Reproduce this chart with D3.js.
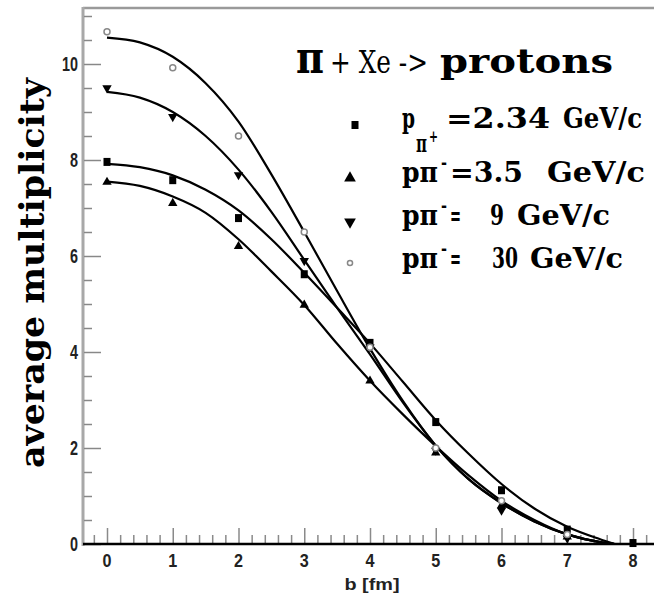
<!DOCTYPE html>
<html><head><meta charset="utf-8">
<script src="https://cdn.jsdelivr.net/npm/d3@7"></script>
<style>body{margin:0;background:#fff}svg{display:block}</style>
</head><body><svg id="c" width="654" height="597"></svg>
<script>
// ---- data ----
const bValues = [0, 1, 2, 3, 4, 5, 6, 7, 8];
const pts234 = [7.96, 7.58, 6.79, 5.62, 4.19, 2.54, 1.12, 0.30, 0.02];
const pts35  = [7.54, 7.10, 6.20, 4.98, 3.40, 1.90, 0.80, 0.15];
const pts9   = [9.50, 8.90, 7.69, 5.90, 4.10, 1.95, 0.70, 0.12];
const pts30  = [10.67, 9.92, 8.50, 6.50, 4.10, 2.00, 0.90, 0.20];

const fitB   = [0, 0.5, 1, 1.5, 2, 2.5, 3, 3.5, 4, 4.5, 5, 5.5, 6, 6.5, 7, 7.5, 7.72];
const fit234 = [7.92, 7.85, 7.68, 7.38, 6.95, 6.35, 5.65, 4.92, 4.18, 3.38, 2.58, 1.88, 1.25, 0.74, 0.36, 0.10, 0.00];
const fit35  = [7.55, 7.46, 7.24, 6.90, 6.35, 5.68, 4.98, 4.17, 3.40, 2.70, 2.04, 1.43, 0.90, 0.50, 0.20, 0.04, 0.00];
const fit9   = [9.42, 9.30, 9.00, 8.50, 7.80, 6.92, 5.92, 4.92, 3.95, 2.95, 2.05, 1.35, 0.85, 0.47, 0.20, 0.04, 0.00];
const fit30  = [10.55, 10.45, 10.15, 9.60, 8.80, 7.70, 6.50, 5.27, 4.07, 2.98, 2.05, 1.35, 0.85, 0.47, 0.20, 0.04, 0.00];

const xTickLabels = ["0", "1", "2", "3", "4", "5", "6", "7", "8"];
const yTickLabels = ["0", "2", "4", "6", "8", "10"];
const seriesSymbols = ["square", "triangleUp", "triangleDown", "circle"];
const legendSub = ["π", "π", "π", "π"];
const legendSign = ["+", "-", "-", "-"];
const legendValue = ["=2.34", "=3.5", "=", "="];
const legendNum = ["", "", "9", "30"];
const legendUnit = ["GeV/c", "GeV/c", "GeV/c", "GeV/c"];
const titleParts = ["π", "+ Xe ->", "protons"];
const xLabel = "b [fm]";
const yLabel = "average multiplicity";

// ---- layout ----
const svg = d3.select("#c");
const x = d3.scaleLinear().domain([0, 8]).range([107, 633]);
const y = d3.scaleLinear().domain([0, 10]).range([544, 64]);
const axisLeftX = 83, axisY = 544, topY = 8, rightX = 654;

const series = [
  {pts: pts234, fit: fit234, sym: seriesSymbols[0]},
  {pts: pts35,  fit: fit35,  sym: seriesSymbols[1]},
  {pts: pts9,   fit: fit9,   sym: seriesSymbols[2]},
  {pts: pts30,  fit: fit30,  sym: seriesSymbols[3]}
];

// frame
svg.append("line").attr("x1", axisLeftX).attr("x2", rightX).attr("y1", topY).attr("y2", topY)
  .attr("stroke", "#9a9a9a").attr("stroke-width", 2.5);
svg.append("line").attr("x1", axisLeftX).attr("x2", axisLeftX).attr("y1", topY - 1).attr("y2", axisY + 2)
  .attr("stroke", "#a8a8a8").attr("stroke-width", 3);

// y ticks (pointing right)
const yMinor = d3.range(0, 11.01, 0.5).filter(v => v % 2 !== 0);
const yMajor = d3.range(0, 10.01, 2);
const gy = svg.append("g").attr("transform", `translate(${axisLeftX + 1},0)`);
gy.call(d3.axisRight(y).tickValues(yMinor).tickSize(8).tickFormat(""));
gy.call(g => g.select(".domain").remove());
const gy2 = svg.append("g").attr("transform", `translate(${axisLeftX + 1},0)`);
gy2.call(d3.axisRight(y).tickValues(yMajor).tickSize(17).tickFormat(""));
gy2.call(g => g.select(".domain").remove());
svg.selectAll("g line").attr("stroke", "#888").attr("stroke-width", 1.5);

// y tick labels
svg.append("g").selectAll("text").data(yMajor).join("text")
  .attr("x", 78).attr("y", d => y(d) + 7)
  .attr("text-anchor", "end")
  .attr("font-family", "Liberation Sans, Arial, sans-serif").attr("font-size", 20).attr("font-weight", "bold")
  .attr("fill", "#222")
  .attr("textLength", (d, i) => yTickLabels[i].length * 8).attr("lengthAdjust", "spacingAndGlyphs")
  .text((d, i) => yTickLabels[i]);

// x ticks (pointing up)
const xMinor = d3.range(-0.2, 8.31, 0.2).map(v => +v.toFixed(1)).filter(v => Math.abs(v - Math.round(v)) > 0.01);
const xMajor = d3.range(0, 8.01, 1);
const gx = svg.append("g").attr("class", "xt").attr("transform", `translate(0,${axisY})`);
gx.call(d3.axisTop(x).tickValues(xMinor).tickSize(9).tickFormat(""));
gx.call(g => g.select(".domain").remove());
const gx2 = svg.append("g").attr("class", "xt").attr("transform", `translate(0,${axisY})`);
gx2.call(d3.axisTop(x).tickValues(xMajor).tickSize(16).tickFormat(""));
gx2.call(g => g.select(".domain").remove());
svg.selectAll("g.xt line").attr("stroke", "#8a8a8a").attr("stroke-width", 1.5);

svg.append("line").attr("x1", axisLeftX).attr("x2", rightX).attr("y1", axisY).attr("y2", axisY)
  .attr("stroke", "#000").attr("stroke-width", 2.5);

// x tick labels
svg.append("g").selectAll("text").data(xMajor).join("text")
  .attr("x", d => x(d)).attr("y", 567)
  .attr("text-anchor", "middle")
  .attr("font-family", "Liberation Sans, Arial, sans-serif").attr("font-size", 19).attr("font-weight", "bold")
  .attr("fill", "#222")
  .attr("textLength", 9).attr("lengthAdjust", "spacingAndGlyphs")
  .text((d, i) => xTickLabels[i]);

// axis titles
svg.append("text").attr("x", 372).attr("y", 590).attr("text-anchor", "middle")
  .attr("font-family", "Liberation Sans, Arial, sans-serif").attr("font-size", 17).attr("font-weight", "bold")
  .attr("fill", "#222").attr("textLength", 55).attr("lengthAdjust", "spacingAndGlyphs").text(xLabel);

svg.append("text").attr("transform", "translate(44,273) rotate(-90)").attr("text-anchor", "middle")
  .attr("font-family", "DejaVu Serif, serif").attr("font-size", 34).attr("font-weight", "bold")
  .attr("fill", "#000").attr("textLength", 390).attr("lengthAdjust", "spacingAndGlyphs").text(yLabel);

// fitted curves
const line = d3.line().x(d => x(d[0])).y(d => y(d[1])).curve(d3.curveMonotoneX);
const plot = svg.append("g");
series.forEach(s => {
  plot.append("path").datum(fitB.map((b, i) => [b, s.fit[i]]))
    .attr("d", line).attr("fill", "none").attr("stroke", "#000").attr("stroke-width", 2.2);
});

// markers
function drawMarker(g, sym, cx, cy, scale) {
  scale = scale || 1;
  if (sym === "square") {
    g.append("rect").attr("x", cx - 3.5 * scale).attr("y", cy - 4 * scale)
      .attr("width", 7 * scale).attr("height", 8 * scale).attr("fill", "#000");
  } else if (sym === "triangleUp" || sym === "triangleDown") {
    g.append("path").attr("d", d3.symbol().type(d3.symbolTriangle).size(38 * scale * scale)())
      .attr("transform", `translate(${cx},${cy}) rotate(${sym === "triangleDown" ? 180 : 0})`)
      .attr("fill", "#000");
  } else {
    g.append("circle").attr("cx", cx).attr("cy", cy).attr("r", 3 * scale)
      .attr("fill", "#fff").attr("stroke", "#888").attr("stroke-width", 1.5);
  }
}
series.forEach(s => {
  s.pts.forEach((v, i) => drawMarker(plot, s.sym, x(bValues[i]), y(v)));
});

// title (one text element, pieces as tspans)
const serif = "DejaVu Serif, serif";
const title = svg.append("text").attr("y", 73).attr("font-family", serif).attr("fill", "#000");
title.append("tspan").attr("x", 296).attr("font-size", 44).attr("font-weight", "bold")
  .attr("textLength", 28).attr("lengthAdjust", "spacingAndGlyphs").text(titleParts[0]);
title.append("tspan").attr("x", 330).attr("font-size", 32)
  .attr("textLength", 98).attr("lengthAdjust", "spacingAndGlyphs").text(titleParts[1]);
title.append("tspan").attr("x", 440).attr("font-size", 33).attr("font-weight", "bold")
  .attr("textLength", 173).attr("lengthAdjust", "spacingAndGlyphs").text(titleParts[2]);

// legend (one text element per row, pieces as tspans)
const legBase = [128, 182, 225, 268];
const legMarkY = [125, 178, 222, 263];
const valX = [[446, 104], [450, 73], [450, 11], [450, 11]];
const numX = [null, null, [490, 14], [492, 26]];
const unitX = [[563, 79], [547, 98], [517, 93], [530, 93]];
const lg = svg.append("g");
series.forEach((s, i) => {
  drawMarker(lg, s.sym, i === 0 ? 355 : 350, legMarkY[i], i === 0 ? 1 : (i === 3 ? 0.85 : 1.25));
  const by = legBase[i];
  const row = lg.append("text").attr("font-family", serif).attr("font-weight", "bold").attr("fill", "#000");
  const t = (tx, ty, size, str, len) =>
    row.append("tspan").attr("x", tx).attr("y", ty).attr("font-size", size)
      .attr("textLength", len).attr("lengthAdjust", "spacingAndGlyphs").text(str);
  if (i === 0) {
    t(402, by, 28, "p", 13);
    t(416, by + 24, 24, legendSub[i], 11);
    t(429, by + 14, 17, legendSign[i], 9);
  } else {
    t(402, by, 28, "p" + legendSub[i], 36);
    t(441, by - 13, 18, legendSign[i], 6);
  }
  t(valX[i][0], by, 27, legendValue[i], valX[i][1]);
  if (numX[i]) t(numX[i][0], by, 27, legendNum[i], numX[i][1]);
  t(unitX[i][0], by, 27, legendUnit[i], unitX[i][1]);
});
</script></body></html>
